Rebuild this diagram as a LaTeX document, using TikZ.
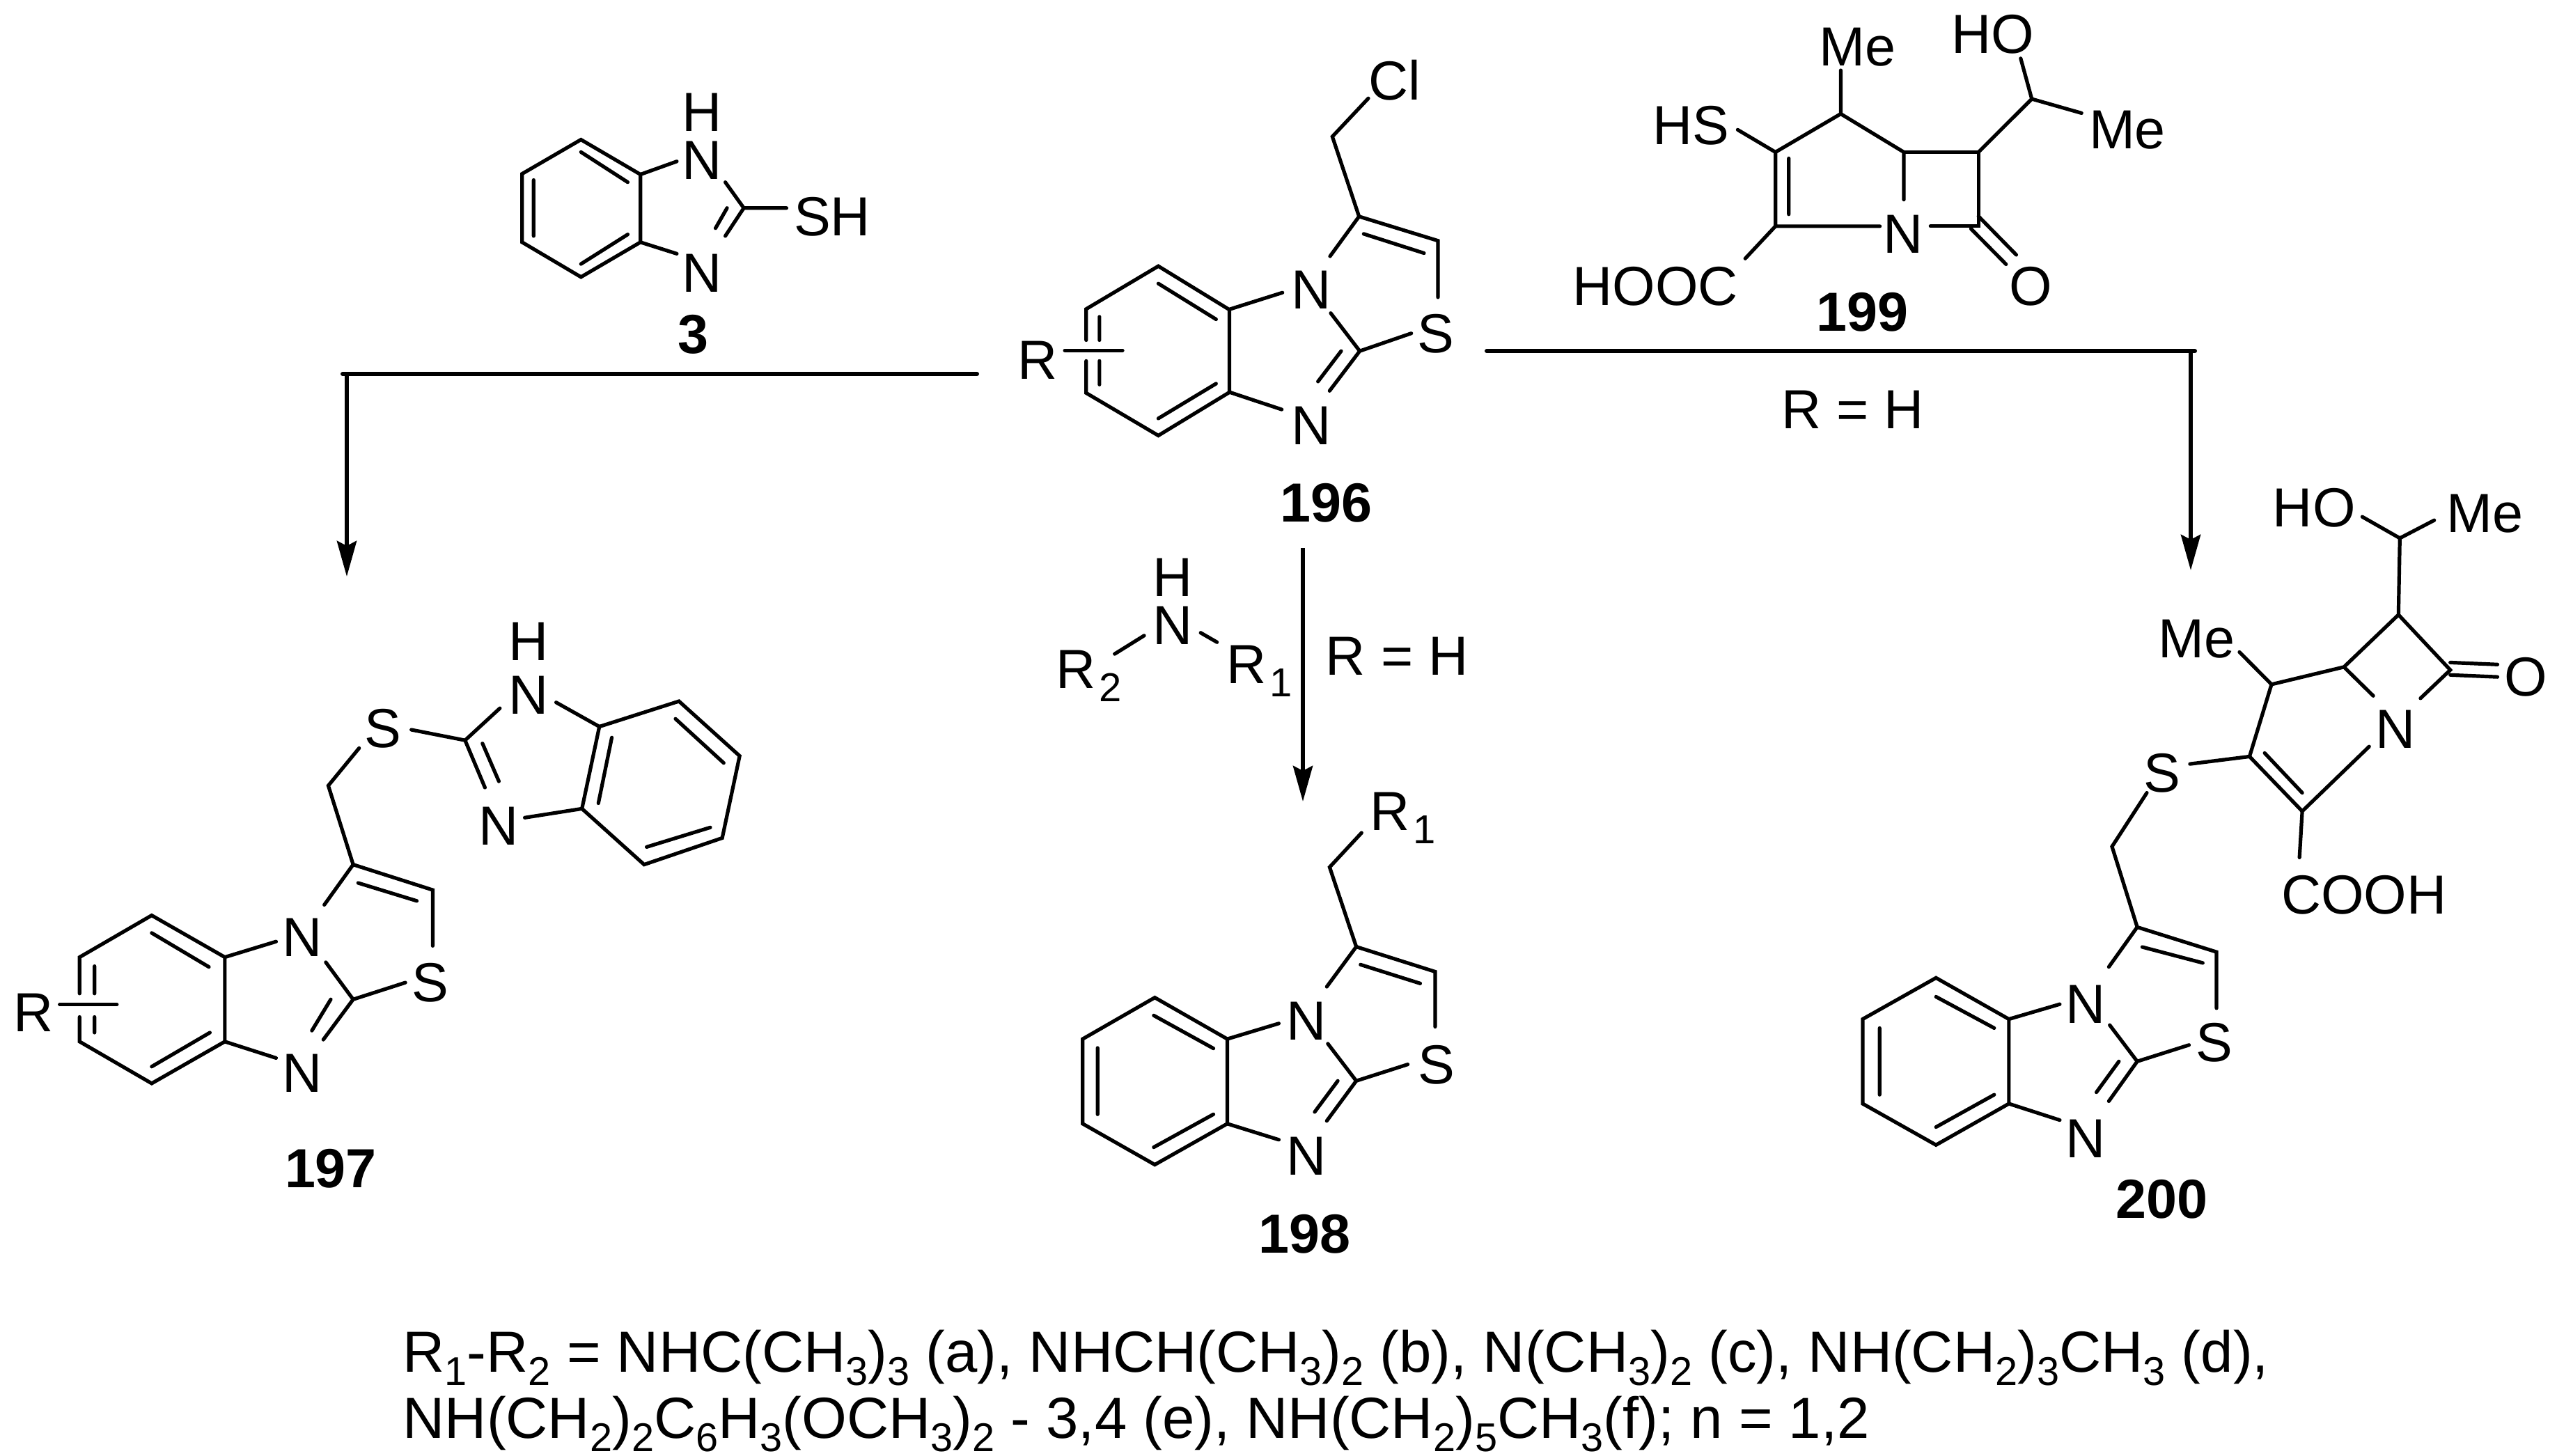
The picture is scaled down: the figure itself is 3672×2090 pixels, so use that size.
\documentclass[tikz,border=0pt]{standalone}
\usepackage{fontspec}
\setmainfont{Liberation Sans}
\usetikzlibrary{arrows.meta}
\newcommand{\lsub}[1]{\hspace{0.05cm}\raisebox{-0.19cm}{\fontsize{16.5}{17}\selectfont #1}}
\newcommand{\nsub}[1]{\raisebox{-0.19cm}{\fontsize{16.4}{17}\selectfont #1}}
\tikzset{
  bond/.style={line width=0.052cm,line cap=round,black},
  rxn/.style={line width=0.06cm,line cap=round,black},
  rxnarrow/.style={line width=0.06cm,black,-{Stealth[length=0.51cm,width=0.28cm,inset=0.07cm]}},
  atom/.style={font=\fontsize{22.5}{26}\selectfont,inner sep=0pt,anchor=base,text=black},
  cpd/.style={font=\fontsize{22.5}{26}\selectfont\bfseries,inner sep=0pt,anchor=base,text=black},
  note/.style={font=\fontsize{23.7}{27}\selectfont,inner sep=0pt,anchor=base west,text=black}
}
\begin{document}
\begin{tikzpicture}[x=0.01cm,y=-0.01cm]
\useasboundingbox (0,0) rectangle (3672,2090);
% ---- compound 3 and left part of 196
\begin{scope}[shift={(700,80)},xscale=0.8291,yscale=0.4464]
\draw[bond] (162,270)--(60,380)--(60,600)--(162,712)--(265,600)--(265,382)--cycle;
\draw[bond] (162,310)--(243,407) (80,400)--(80,580) (162,670)--(243,575);
\draw[bond] (265,382)--(328,340) (412,407)--(444,490)--(412,580) (415,490)--(395,555);
\draw[bond] (444,490)--(518,490) (265,600)--(328,637);
\node[atom] (h3) at (372,243) {H};
\node[atom] (n3a) at (372,397) {N};
\node[atom] (sh3) at (597,578) {SH};
\node[atom] (n3b) at (372,760) {N};
\node[cpd] (c3) at (357,958) {3};
% 196 benzene
\draw[bond] (1037,915)--(1037,815)--(1162,677)--(1285,817)--(1285,1083)--(1162,1222)--(1037,1085)--(1037,982);
\draw[bond] (1162,733)--(1262,848) (1060,840)--(1060,915) (1060,982)--(1060,1058) (1162,1167)--(1262,1055);
\draw[bond] (1000,948)--(1100,948);
\node[atom] (r196) at (953,1040) {R};
\end{scope}
% ---- right part of 196
\begin{scope}[shift={(1750,60)},xscale=0.3333,yscale=0.4464]
\draw[bond] (50,860)--(275,807) (50,1128)--(272,1183);
\draw[bond] (645,182)--(490,305)--(605,562)--(480,690);
\draw[bond] (605,562)--(945,640)--(945,822) (625,618)--(885,680);
\draw[bond] (483,873)--(608,995)--(478,1123) (528,995)--(428,1093) (608,995)--(830,938);
\node[atom] (cl196) at (758,188) {Cl};
\node[atom] (n196a) at (400,860) {N};
\node[atom] (n196b) at (400,1295) {N};
\node[atom] (s196) at (937,1000) {S};
\node[cpd] (c196) at (465,1545) {196};
\end{scope}
% ---- 199
\begin{scope}[shift={(2200,0)},xscale=0.638,yscale=0.357]
\draw[bond] (463,522)--(548,612)--(548,910)--(783,910);
\draw[bond] (548,612)--(695,458)--(837,612)--(837,803);
\draw[bond] (897,910)--(1005,910)--(1005,612)--(837,612);
\draw[bond] (695,458)--(695,283) (578,637)--(578,862) (548,910)--(480,1040);
\draw[bond] (1005,612)--(1125,398)--(1100,235) (1125,398)--(1237,455);
\draw[bond] (1005,870)--(1090,1025) (988,920)--(1067,1063);
\node[atom] (me199a) at (733,265) {Me};
\node[atom] (ho199) at (1037,215) {HO};
\node[atom] (hs199) at (358,580) {HS};
\node[atom] (hooc199) at (278,1228) {HOOC};
\node[atom] (n199) at (836,1018) {N};
\node[atom] (o199) at (1123,1228) {O};
\node[atom] (me199b) at (1340,598) {Me};
\node[cpd] (c199) at (743,1332) {199};
\end{scope}
% ---- 197
\begin{scope}[shift={(0,860)},xscale=0.7143,yscale=0.5612]
\draw[bond] (160,1010)--(160,917)--(305,810)--(452,917)--(452,1133)--(305,1240)--(160,1133)--(160,1070);
\draw[bond] (305,855)--(420,942) (190,940)--(190,1010) (190,1070)--(190,1110) (305,1197)--(422,1110);
\draw[bond] (120,1038)--(235,1038);
\draw[bond] (452,917)--(555,877) (452,1133)--(555,1175);
\draw[bond] (655,930)--(710,1025)--(650,1128) (665,1025)--(627,1105) (710,1025)--(815,982);
\draw[bond] (652,783)--(710,680)--(870,745)--(870,888) (720,727)--(838,773);
\draw[bond] (710,680)--(660,478)--(722,382) (827,335)--(935,362)--(1005,280);
\draw[bond] (935,362)--(975,483) (970,370)--(1003,467) (1055,560)--(1170,537) (1118,265)--(1205,327);
\draw[bond] (1205,327)--(1365,262)--(1487,402)--(1452,612)--(1295,680)--(1170,537)--cycle;
\draw[bond] (1230,355)--(1203,523) (1358,307)--(1455,420) (1428,585)--(1300,635);
\node[atom] (h197) at (1062,158) {H};
\node[atom] (n197a) at (1062,295) {N};
\node[atom] (s197a) at (770,380) {S};
\node[atom] (n197b) at (1002,630) {N};
\node[atom] (n197c) at (607,915) {N};
\node[atom] (s197b) at (865,1030) {S};
\node[atom] (n197d) at (607,1262) {N};
\node[atom] (r197) at (67,1107) {R};
\node[cpd] (c197) at (665,1507) {197};
\end{scope}
% ---- amine and 198
\begin{scope}[shift={(1440,760)},xscale=0.5102,yscale=0.676]
\draw[bond] (315,265)--(398,226) (557,220)--(603,240);
\node[atom] (hamine) at (478,143) {H};
\node[atom] (namine) at (478,245) {N};
\node[atom,anchor=base west] (r2amine) at (148,338) {R\lsub{2}};
\node[atom,anchor=base west] (r1amine) at (628,328) {R\lsub{1}};
\node[atom,anchor=base west] (rh198) at (908,310) {R = H};
\draw[bond] (1010,645)--(920,718)--(995,887)--(912,972);
\draw[bond] (995,887)--(1217,940)--(1217,1057) (1007,925)--(1175,965);
\draw[bond] (428,995)--(225,1083)--(225,1263)--(428,1350)--(632,1263)--(632,1083)--cycle;
\draw[bond] (425,1033)--(593,1103) (267,1102)--(267,1243) (425,1313)--(593,1243);
\draw[bond] (632,1083)--(777,1050) (632,1263)--(777,1297);
\draw[bond] (915,1093)--(995,1172)--(912,1257) (943,1172)--(878,1238) (995,1172)--(1140,1137);
\node[atom,anchor=base west] (r1198) at (1032,640) {R\lsub{1}};
\node[atom] (n198a) at (855,1085) {N};
\node[atom] (n198b) at (855,1372) {N};
\node[atom] (s198) at (1220,1178) {S};
\node[cpd] (c198) at (850,1537) {198};
\end{scope}
% ---- 200
\begin{scope}[shift={(2640,660)},xscale=0.6582,yscale=0.7143]
\draw[bond] (1143,115)--(1225,158)--(1300,122) (1225,158)--(1222,312);
\draw[bond] (1222,312)--(1103,417)--(945,452)--(897,597) (945,452)--(875,387);
\draw[bond] (1222,312)--(1335,423)--(1270,480) (1103,417)--(1167,475);
\draw[bond] (1335,408)--(1438,412) (1335,433)--(1438,437);
\draw[bond] (1158,577)--(1012,707)--(897,597) (1012,670)--(930,590) (897,597)--(767,612) (1012,707)--(1006,800);
\draw[bond] (673,670)--(597,778)--(652,940)--(590,1020);
\draw[bond] (652,940)--(825,990)--(825,1103) (663,980)--(795,1012);
\draw[bond] (213,1042)--(53,1125)--(53,1295)--(213,1378)--(372,1295)--(372,1125)--cycle;
\draw[bond] (213,1080)--(340,1143) (90,1143)--(90,1277) (213,1342)--(340,1277);
\draw[bond] (372,1125)--(483,1095) (372,1295)--(483,1328);
\draw[bond] (592,1137)--(652,1210)--(590,1290) (612,1210)--(563,1272) (652,1210)--(765,1177);
\node[atom] (ho200) at (1038,135) {HO};
\node[atom] (me200a) at (1410,146) {Me};
\node[atom] (me200b) at (782,398) {Me};
\node[atom] (o200) at (1500,475) {O};
\node[atom] (n200a) at (1215,580) {N};
\node[atom] (s200a) at (707,668) {S};
\node[atom] (cooh200) at (1147,913) {COOH};
\node[atom] (n200b) at (540,1133) {N};
\node[atom] (s200b) at (820,1210) {S};
\node[atom] (n200c) at (540,1403) {N};
\node[cpd] (c200) at (705,1525) {200};
\end{scope}
% ---- reaction lines
\coordinate (lstart) at (1403,537);
\coordinate (lcorner) at (492,537);
\coordinate (ltop) at (498,537);
\coordinate (ltip) at (498,828);
\coordinate (mtop) at (1871,787);
\coordinate (mtip) at (1871,1151);
\coordinate (rstart) at (2135,504);
\coordinate (rcorner) at (3152,504);
\coordinate (rtop) at (3146,504);
\coordinate (rtip) at (3146,819);
\draw[rxn] (lstart)--(lcorner);
\draw[rxnarrow] (ltop)--(ltip);
\draw[rxnarrow] (mtop)--(mtip);
\draw[rxn] (rstart)--(rcorner);
\draw[rxnarrow] (rtop)--(rtip);
\node[atom,anchor=base west] (rhright) at (2558,615) {R = H};
% ---- footnote
\node[note] (line1) at (578,1970) {R\nsub{1}-R\nsub{2} = NHC(CH\nsub{3})\nsub{3} (a), NHCH(CH\nsub{3})\nsub{2} (b), N(CH\nsub{3})\nsub{2} (c), NH(CH\nsub{2})\nsub{3}CH\nsub{3} (d),};
\node[note] (line2) at (578,2065) {NH(CH\nsub{2})\nsub{2}C\nsub{6}H\nsub{3}(OCH\nsub{3})\nsub{2} - 3,4 (e), NH(CH\nsub{2})\nsub{5}CH\nsub{3}(f); n = 1,2};
\end{tikzpicture}
\end{document}
